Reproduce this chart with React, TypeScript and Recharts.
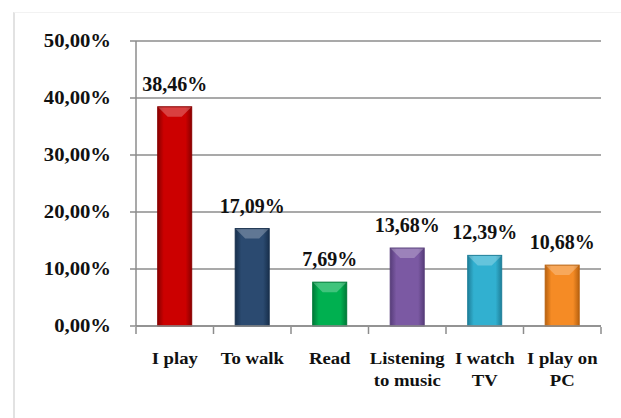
import React from "react"
import { BarChart, Bar, XAxis, YAxis, CartesianGrid, LabelList, Cell } from "recharts"

const categories = ["I play", "To walk", "Read", "Listening\nto music", "I watch\nTV", "I play on\nPC"]
const shares = [38.46, 17.09, 7.69, 13.68, 12.39, 10.68]
const yTicks = [0, 10, 20, 30, 40, 50]
const barColors = ["#cc0000", "#2b4a70", "#00b050", "#7b59a3", "#31b0d0", "#f58b25"]
const edgeColors = ["#8a0000", "#18304d", "#007a38", "#573d7a", "#1f7f99", "#b9620f"]

const data = categories.map((name, i) => ({ name, value: shares[i] }))

const FONT = "'Liberation Serif', 'Times New Roman', serif"
const GRID = "#8c8c8c"

const pct = (v: number) => `${v.toFixed(2).replace(".", ",")}%`

function YTick(props: any) {
  const { x, y, payload } = props
  const tx = x - 19
  return (
    <g>
      <line x1={x} x2={x + 6} y1={y} y2={y} stroke={GRID} strokeWidth={1.5} />
      <text
        x={tx}
        y={y}
        dy={6}
        textAnchor="end"
        fontFamily={FONT}
        fontWeight="bold"
        fontSize={18}
        fill="#111"
        transform={`translate(${tx} 0) scale(1.15 1) translate(${-tx} 0)`}
      >
        {pct(payload.value)}
      </text>
    </g>
  )
}

function XTick(props: any) {
  const { x, y, payload, index } = props
  const half = payload.offset ?? 0
  const lines = String(payload.value).split("\n")
  return (
    <g>
      <line x1={x - half} x2={x - half} y1={y - 7} y2={y} stroke={GRID} strokeWidth={1.5} />
      {index === categories.length - 1 && (
        <line x1={x + half} x2={x + half} y1={y - 7} y2={y} stroke={GRID} strokeWidth={1.5} />
      )}
      <text
        x={x}
        y={y + 30}
        textAnchor="middle"
        fontFamily={FONT}
        fontWeight="bold"
        fontSize={17}
        fill="#111"
        transform={`translate(${x} 0) scale(1.1 1) translate(${-x} 0)`}
      >
        {lines.map((l, i) => (
          <tspan key={i} x={x} dy={i === 0 ? 0 : 22}>
            {l}
          </tspan>
        ))}
      </text>
    </g>
  )
}

function BevelBar(props: any) {
  const { x, y, width, height, index } = props
  const b = Math.min(10, width / 3)
  return (
    <g>
      <rect x={x} y={y} width={width} height={height} fill={`url(#barGrad${index})`} />
      <polygon
        points={`${x},${y} ${x + width},${y} ${x + width - b},${y + b} ${x + b},${y + b}`}
        fill="#ffffff"
        fillOpacity={0.25}
      />
      <rect x={x} y={y} width={width} height={height} fill="none" stroke={edgeColors[index]} strokeWidth={1} />
    </g>
  )
}

export default function App() {
  return (
    <div style={{ position: "absolute", left: 0, top: 0, width: 621, height: 418, background: "#fff" }}>
      <div
        style={{
          position: "absolute",
          left: 13,
          top: 12,
          width: 608,
          height: 406,
          borderLeft: "2px solid #e2e2e2",
          borderTop: "1px solid #f2f2f2",
        }}
      />
      <BarChart
        width={621}
        height={418}
        data={data}
        margin={{ top: 41, right: 20, bottom: 0, left: 0 }}
        barCategoryGap="28%"
        style={{ position: "absolute", left: 0, top: 0 }}
      >
        <defs>
          {barColors.map((c, i) => (
            <linearGradient key={i} id={`barGrad${i}`} x1="0" y1="0" x2="1" y2="0">
              <stop offset="0%" stopColor={edgeColors[i]} />
              <stop offset="18%" stopColor={c} />
              <stop offset="82%" stopColor={c} />
              <stop offset="100%" stopColor={edgeColors[i]} />
            </linearGradient>
          ))}
        </defs>
        <CartesianGrid vertical={false} stroke={GRID} strokeWidth={1.5} />
        <XAxis
          dataKey="name"
          interval={0}
          stroke={GRID}
          strokeWidth={1.5}
          tickLine={false}
          tick={<XTick />}
          height={92}
        />
        <YAxis
          domain={[0, 50]}
          ticks={yTicks}
          width={136}
          stroke={GRID}
          strokeWidth={1.5}
          tickLine={false}
          tick={<YTick />}
          tickMargin={0}
          interval={0}
        />
        <Bar dataKey="value" isAnimationActive={false} shape={<BevelBar />}>
          {data.map((_, i) => (
            <Cell key={i} fill={barColors[i]} />
          ))}
          <LabelList
            dataKey="value"
            position="top"
            offset={16}
            formatter={(v: any) => pct(Number(v))}
            style={{ fontFamily: FONT, fontWeight: "bold", fontSize: 20, fill: "#111" }}
          />
        </Bar>
      </BarChart>
    </div>
  )
}
